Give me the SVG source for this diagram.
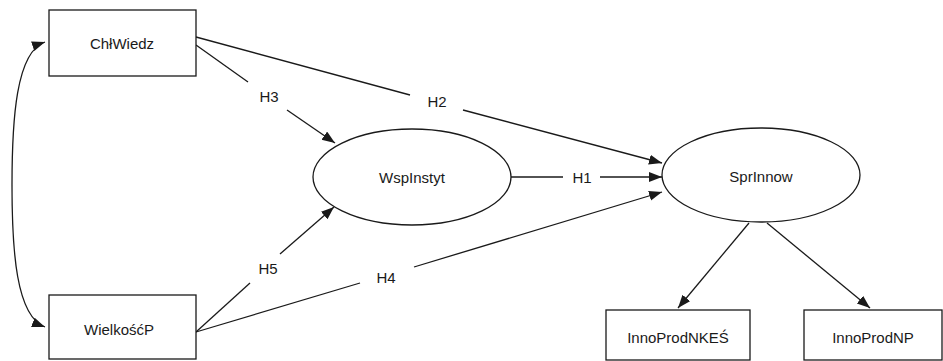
<svg xmlns="http://www.w3.org/2000/svg" width="943" height="361" viewBox="0 0 943 361">
<style>
.box{fill:#fff;stroke:#1a1a1a;stroke-width:1.3}
.lbl{font-family:"Liberation Sans",Arial,sans-serif;font-size:15px;fill:#1a1a1a;text-anchor:middle;dominant-baseline:central}
.ln{fill:none;stroke:#1a1a1a;stroke-width:1.3}
</style>
<defs>
<marker id="ah" markerUnits="userSpaceOnUse" markerWidth="14" markerHeight="11" refX="13" refY="5" orient="auto-start-reverse">
<path d="M0,0 L13,5 L0,10 z" fill="#1a1a1a"/>
</marker>
</defs>
<rect width="943" height="361" fill="#fff"/>
<g id="connectors">
<path class="ln" d="M45,42 C16,52 12,120 12,185 C12,250 16,316 45,327" marker-start="url(#ah)" marker-end="url(#ah)"/>
<line class="ln" x1="196" y1="37" x2="410" y2="95"/>
<line class="ln" x1="463" y1="110" x2="662" y2="163" marker-end="url(#ah)"/>
<line class="ln" x1="196" y1="45" x2="248" y2="82"/>
<line class="ln" x1="287" y1="110" x2="335" y2="143" marker-end="url(#ah)"/>
<line class="ln" x1="511" y1="177" x2="563" y2="177"/>
<line class="ln" x1="600" y1="177" x2="662" y2="177" marker-end="url(#ah)"/>
<line class="ln" x1="196" y1="332" x2="250" y2="283"/>
<line class="ln" x1="280" y1="254" x2="334" y2="207" marker-end="url(#ah)"/>
<line class="ln" x1="196" y1="332" x2="360" y2="283"/>
<line class="ln" x1="414" y1="267" x2="662" y2="192" marker-end="url(#ah)"/>
<line class="ln" x1="749" y1="223" x2="678" y2="308" marker-end="url(#ah)"/>
<line class="ln" x1="767" y1="223" x2="870" y2="308" marker-end="url(#ah)"/>
<text class="lbl" x="269" y="96">H3</text>
<text class="lbl" x="437" y="101">H2</text>
<text class="lbl" x="582" y="177">H1</text>
<text class="lbl" x="268" y="268">H5</text>
<text class="lbl" x="386" y="277">H4</text>
</g>
<g id="ChlWiedz">
<rect class="box" x="49" y="10" width="147" height="66"/>
<text class="lbl" x="122" y="43">ChłWiedz</text>
</g>
<g id="WielkoscP">
<rect class="box" x="49" y="295" width="147" height="64"/>
<text class="lbl" x="119" y="329">WielkośćP</text>
</g>
<g id="WspInstyt">
<ellipse class="box" cx="412" cy="177" rx="99" ry="48"/>
<text class="lbl" x="412" y="177">WspInstyt</text>
</g>
<g id="SprInnow">
<ellipse class="box" cx="761" cy="175" rx="99" ry="47"/>
<text class="lbl" x="761" y="176">SprInnow</text>
</g>
<g id="InnoProdNKES">
<rect class="box" x="606" y="310" width="144" height="50"/>
<text class="lbl" x="678" y="337">InnoProdNKEŚ</text>
</g>
<g id="InnoProdNP">
<rect class="box" x="804" y="310" width="138" height="50"/>
<text class="lbl" x="873" y="337">InnoProdNP</text>
</g>
</svg>
